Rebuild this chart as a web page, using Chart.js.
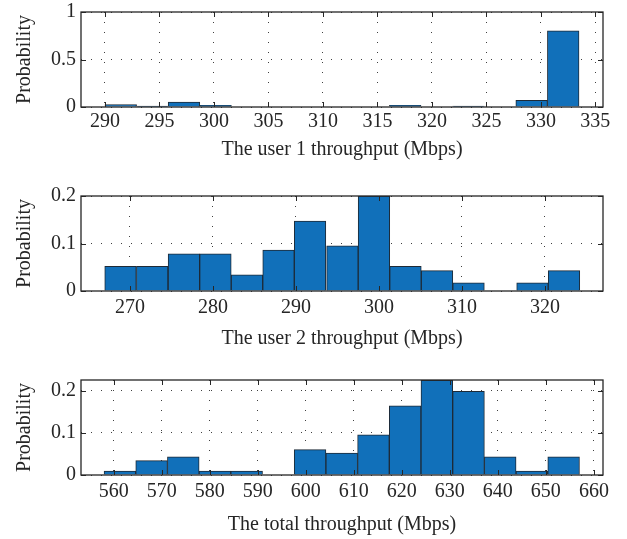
<!DOCTYPE html>
<html>
<head>
<meta charset="utf-8">
<script src="https://cdn.jsdelivr.net/npm/chart.js@4.4.0/dist/chart.umd.min.js"></script>
<style>
  html, body { margin: 0; padding: 0; background: #fff; overflow: hidden; }
  #wrap { position: relative; width: 627px; height: 539px; }
  canvas { position: absolute; left: 0; }
</style>
</head>
<body>
<div id="wrap">
  <canvas id="hist1" width="627" height="184" style="top:0px"></canvas>
  <canvas id="hist2" width="627" height="184" style="top:184px"></canvas>
  <canvas id="hist3" width="627" height="184" style="top:368px"></canvas>
</div>
<script>
// bin centres (Mbps) and probabilities
const user1Bins = [291.45, 294.35, 297.25, 300.15, 303.05, 305.95, 308.85, 311.75, 314.65, 317.55, 320.45, 323.35, 326.25, 329.15, 332.05];
const user1Prob = [0.026, 0.009, 0.052, 0.017, 0, 0, 0, 0, 0, 0.017, 0, 0.009, 0, 0.069, 0.802];
const user1Ticks = [290, 295, 300, 305, 310, 315, 320, 325, 330, 335];
const user1YTicks = [0, 0.5, 1];

const user2Bins = [268.86, 272.68, 276.5, 280.3, 284.1, 287.9, 291.7, 295.6, 299.4, 303.2, 307.0, 310.8, 314.6, 318.5, 322.3];
const user2Prob = [0.052, 0.052, 0.078, 0.078, 0.034, 0.086, 0.147, 0.095, 0.2, 0.052, 0.043, 0.017, 0, 0.017, 0.043];
const user2Ticks = [270, 280, 290, 300, 310, 320];
const user2YTicks = [0, 0.1, 0.2];

const totalBins = [561.3, 567.9, 574.5, 581.1, 587.7, 594.3, 600.9, 607.5, 614.1, 620.7, 627.3, 633.9, 640.5, 647.1, 653.7];
const totalProb = [0.009, 0.034, 0.043, 0.009, 0.009, 0, 0.060, 0.052, 0.095, 0.164, 0.224, 0.198, 0.043, 0.009, 0.043];
const totalTicks = [560, 570, 580, 590, 600, 610, 620, 630, 640, 650, 660];
const totalYTicks = [0, 0.1, 0.2];

const FONT = "'Liberation Serif', 'DejaVu Serif', serif";
const INK = '#262626';

// matlab style box with inward ticks, drawn over the bars
const boxTicks = {
  id: 'boxTicks',
  afterDatasetsDraw(chart) {
    const { ctx, chartArea: a, scales: { x, y } } = chart;
    ctx.save();
    ctx.strokeStyle = INK;
    ctx.lineWidth = 1;
    ctx.beginPath();
    x.ticks.forEach(t => {
      const px = Math.round(x.getPixelForValue(t.value)) + 0.5;
      ctx.moveTo(px, a.bottom); ctx.lineTo(px, a.bottom - 5);
      ctx.moveTo(px, a.top); ctx.lineTo(px, a.top + 5);
    });
    y.ticks.forEach(t => {
      const py = Math.round(y.getPixelForValue(t.value)) + 0.5;
      ctx.moveTo(a.left, py); ctx.lineTo(a.left + 5, py);
      ctx.moveTo(a.right, py); ctx.lineTo(a.right - 5, py);
    });
    ctx.stroke();
    ctx.lineWidth = 1.3;
    ctx.strokeRect(a.left, a.top, a.right - a.left, a.bottom - a.top);
    ctx.restore();
  }
};

function makeHist(id, bins, probs, xMin, xMax, xTicks, yMax, yTicks, xTitle, tickPad, titlePad) {
  return new Chart(document.getElementById(id), {
    type: 'bar',
    data: {
      datasets: [{
        data: bins.map((b, i) => ({ x: b, y: probs[i] })),
        backgroundColor: '#1170ba',
        borderColor: '#1e2a36',
        borderWidth: 1,
        barPercentage: 1,
        categoryPercentage: 1
      }]
    },
    options: {
      responsive: false,
      devicePixelRatio: 1,
      animation: false,
      layout: { padding: { top: 12, right: 24, bottom: 0, left: 0 } },
      plugins: { legend: { display: false }, tooltip: { enabled: false } },
      scales: {
        x: {
          type: 'linear',
          offset: false,
          min: xMin,
          max: xMax,
          afterBuildTicks: s => { s.ticks = xTicks.map(v => ({ value: v })); },
          afterFit: s => { s.height = 77; s.paddingLeft = 0; s.paddingRight = 0; },
          ticks: { autoSkip: false, maxRotation: 0, padding: tickPad, color: INK, font: { family: FONT, size: 20 } },
          grid: { offset: false, color: 'rgba(30,30,30,0.85)', lineWidth: 1, drawTicks: false },
          border: { display: false, dash: [1, 9] },
          title: { display: true, text: xTitle, color: INK, font: { family: FONT, size: 20 }, padding: { top: 0, bottom: titlePad } }
        },
        y: {
          min: 0,
          max: yMax,
          afterBuildTicks: s => { s.ticks = yTicks.map(v => ({ value: v })); },
          afterFit: s => { s.width = 81; s.paddingTop = 0; s.paddingBottom = 0; },
          ticks: { padding: 5, color: INK, font: { family: FONT, size: 20 }, callback: v => String(v) },
          grid: { color: 'rgba(30,30,30,0.85)', lineWidth: 1, drawTicks: false },
          border: { display: false, dash: [1, 9] },
          title: { display: true, text: 'Probability', color: INK, font: { family: FONT, size: 20 }, padding: { top: 13, bottom: 0 } }
        }
      }
    },
    plugins: [boxTicks]
  });
}

makeHist('hist1', user1Bins, user1Prob, 287.8, 335.7, user1Ticks, 1, user1YTicks, 'The user 1 throughput (Mbps)', 2.5, 22);
makeHist('hist2', user2Bins, user2Prob, 264.1, 327.0, user2Ticks, 0.2, user2YTicks, 'The user 2 throughput (Mbps)', 5, 17.5);
makeHist('hist3', totalBins, totalProb, 553.2, 661.9, totalTicks, 0.225, totalYTicks, 'The total throughput (Mbps)', 5, 15);
</script>
</body>
</html>
